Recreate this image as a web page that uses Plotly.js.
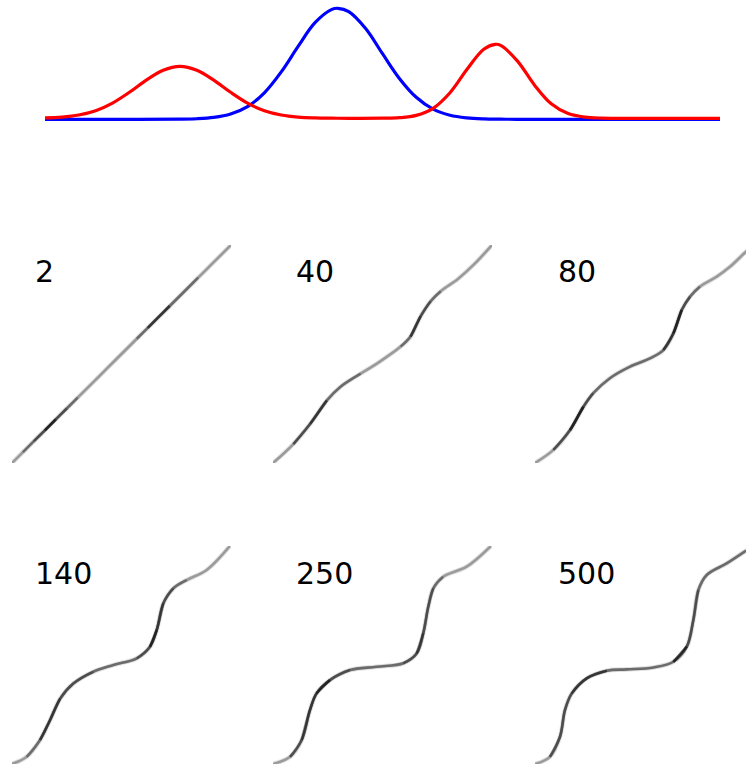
<!DOCTYPE html>
<html><head><meta charset="utf-8">
<script src="https://cdn.plot.ly/plotly-3.0.1.min.js"></script>
<style>html,body{margin:0;padding:0;background:#fff}#chart{width:746px;height:767px}</style>
</head><body><div id="chart"></div>
<script>
// ---- top distributions (x index 0..100, heights) ----
const blueX = [0,10,20,22.5,25,27.5,30,32.5,35,37.5,40,42.5,43.4,45,47.5,50,52.5,55,57.5,60,62.5,65,67.5,70,80,90,100];
const blueY = [0,0,0.15,0.57,1.9,5.3,12.7,26.5,47.4,72.9,96.6,109.9,111,107.6,90.7,65.6,40.9,22.0,10.1,4.0,1.4,0.4,0.1,0,0,0,0];
const redX = [0,2.5,5,7.5,10,12.5,15,17.5,20,22.5,25,27.5,30,32.5,35,37.5,40,42.5,45,50,52.5,55,57.5,60,62.5,65,66.7,67.5,70,72.5,75,77.5,80,82.5,85,90,100];
const redY = [1.4,2.2,4.3,8.6,16.2,27,39.2,49.1,53,49.1,39.2,27,16.2,8.6,4.3,2.2,1.4,1.1,1.0,1.1,1.6,3.9,11.0,26.6,49.8,70.1,75,73.9,58.2,34.4,15.5,5.7,2.1,1.2,1.0,1.0,1.0];

// ---- transport plans: labels, curve (u,v in [0,1]) and darkness ----
const panelLabels = ['2','40','80','140','250','500'];
const plan2U = [0,0.05,0.1,0.15,0.2,0.25,0.3,0.4,0.5,0.57,0.62,0.67,0.72,0.78,0.85,0.92,1];
const plan2V = [0,0.05,0.1,0.15,0.2,0.25,0.3,0.4,0.5,0.57,0.62,0.67,0.72,0.78,0.85,0.92,1];
const plan2S = [0.3,0.45,0.6,0.85,0.85,0.6,0.45,0.35,0.35,0.5,0.8,0.85,0.7,0.5,0.4,0.3,0.2];
const plan40U = [0,0.093,0.17,0.246,0.307,0.40,0.476,0.583,0.628,0.674,0.72,0.766,0.843,0.919,1.0];
const plan40V = [0,0.087,0.18,0.287,0.349,0.41,0.457,0.534,0.58,0.673,0.742,0.788,0.843,0.912,1.0];
const plan40S = [0.3,0.6,0.85,0.8,0.5,0.4,0.35,0.5,0.8,0.9,0.6,0.4,0.35,0.3,0.2];
const plan80U = [0,0.084,0.16,0.221,0.266,0.342,0.434,0.525,0.586,0.632,0.67,0.708,0.753,0.83,0.89,0.963,1.0];
const plan80V = [0,0.06,0.151,0.258,0.32,0.389,0.442,0.48,0.518,0.595,0.702,0.763,0.809,0.855,0.90,0.969,1.0];
const plan80S = [0.3,0.55,0.85,0.85,0.6,0.5,0.45,0.5,0.8,0.9,0.85,0.6,0.45,0.35,0.3,0.25,0.2];
const plan140U = [0,0.067,0.128,0.174,0.22,0.28,0.371,0.463,0.57,0.63,0.661,0.691,0.737,0.798,0.889,0.995];
const plan140V = [0,0.033,0.11,0.202,0.30,0.369,0.423,0.454,0.485,0.538,0.615,0.737,0.806,0.844,0.89,1.0];
const plan140S = [0.3,0.5,0.8,0.85,0.8,0.65,0.55,0.5,0.6,0.9,0.85,0.8,0.55,0.4,0.3,0.2];
const plan250U = [0,0.078,0.131,0.169,0.199,0.26,0.352,0.473,0.595,0.656,0.686,0.709,0.732,0.777,0.884,0.995];
const plan250V = [0,0.033,0.11,0.248,0.324,0.385,0.431,0.446,0.462,0.507,0.599,0.721,0.806,0.859,0.905,1.0];
const plan250S = [0.3,0.55,0.7,0.7,0.85,0.9,0.6,0.45,0.6,0.9,0.8,0.65,0.6,0.45,0.35,0.25];
const plan500U = [0,0.068,0.114,0.137,0.168,0.236,0.328,0.419,0.541,0.632,0.693,0.723,0.746,0.784,0.875,0.963,1.0];
const plan500V = [0,0.033,0.125,0.248,0.324,0.393,0.428,0.434,0.443,0.469,0.538,0.661,0.798,0.867,0.92,0.978,1.0];
const plan500S = [0.3,0.55,0.6,0.55,0.75,0.9,0.75,0.4,0.5,0.9,0.85,0.6,0.55,0.5,0.45,0.4,0.3];

const plans = [
  [plan2U,plan2V,plan2S],[plan40U,plan40V,plan40S],[plan80U,plan80V,plan80S],
  [plan140U,plan140V,plan140S],[plan250U,plan250V,plan250S],[plan500U,plan500V,plan500S]
];

// ---- layout geometry (pixels) ----
const W = 746, H = 767;
const px = v => v / W, py = v => 1 - v / H;
const colLeft = [12, 273, 535], panelW = 219;
const rowTop = [245, 546], panelH = 218;

const traces = [];
traces.push({x: blueX, y: blueY, mode: 'lines', line: {color: '#0000ff', width: 3.2, shape: 'spline'}, xaxis: 'x', yaxis: 'y', hoverinfo: 'skip'});
traces.push({x: redX, y: redY, mode: 'lines', line: {color: '#ff0000', width: 3.2, shape: 'spline'}, xaxis: 'x', yaxis: 'y', hoverinfo: 'skip'});

function runs(s, thr) {
  const out = []; let start = -1;
  for (let i = 0; i <= s.length; i++) {
    if (i < s.length && s[i] >= thr) { if (start < 0) start = i; }
    else { if (start >= 0 && i - start >= 2) out.push([start, i - 1]); start = -1; }
  }
  return out;
}

const layout = {
  width: W, height: H, margin: {l: 0, r: 0, t: 0, b: 0},
  paper_bgcolor: '#fff', plot_bgcolor: 'rgba(0,0,0,0)', showlegend: false,
  xaxis: {domain: [px(38.25), px(726.75)], range: [-1, 101], visible: false, fixedrange: true},
  yaxis: {domain: [py(129.3), py(1.3)], range: [-10, 118], visible: false, fixedrange: true},
  annotations: []
};

const shadeLevels = [[0.4, 'rgba(20,20,20,0.35)'], [0.55, 'rgba(20,20,20,0.35)'], [0.7, 'rgba(20,20,20,0.4)'], [0.82, 'rgba(10,10,10,0.45)']];

plans.forEach((p, k) => {
  const [u, v, s] = p;
  const n = k + 2;
  const xa = 'x' + n, ya = 'y' + n;
  const col = k % 3, row = Math.floor(k / 3);
  const l = colLeft[col], r = Math.min(l + panelW, W);
  const t = rowTop[row], b = t + panelH;
  layout['xaxis' + n] = {domain: [px(l), px(r)], range: [0, (r - l) / panelW], visible: false, fixedrange: true, anchor: 'y' + n};
  layout['yaxis' + n] = {domain: [py(b), py(t)], range: [0, 1], visible: false, fixedrange: true, anchor: 'x' + n};
  traces.push({x: u, y: v, mode: 'lines', line: {color: 'rgba(0,0,0,0.12)', width: 4.6, shape: 'spline'}, xaxis: xa, yaxis: ya, hoverinfo: 'skip'});
  traces.push({x: u, y: v, mode: 'lines', line: {color: '#9a9a9a', width: 2.6, shape: 'spline'}, xaxis: xa, yaxis: ya, hoverinfo: 'skip'});
  shadeLevels.forEach(([thr, c]) => {
    runs(s, thr).forEach(([i0, i1]) => {
      traces.push({x: u.slice(i0, i1 + 1), y: v.slice(i0, i1 + 1), mode: 'lines',
        line: {color: c, width: 2.6, shape: 'spline'}, xaxis: xa, yaxis: ya, hoverinfo: 'skip'});
    });
  });
  layout.annotations.push({
    text: panelLabels[k], xref: 'paper', yref: 'paper',
    x: px(l + 21), y: py(row === 0 ? 271 : 573), xanchor: 'left', yanchor: 'middle',
    showarrow: false, font: {family: 'DejaVu Sans', size: 30, color: '#000'}
  });
});

Plotly.newPlot('chart', traces, layout, {staticPlot: true, displayModeBar: false});
</script>
</body></html>
